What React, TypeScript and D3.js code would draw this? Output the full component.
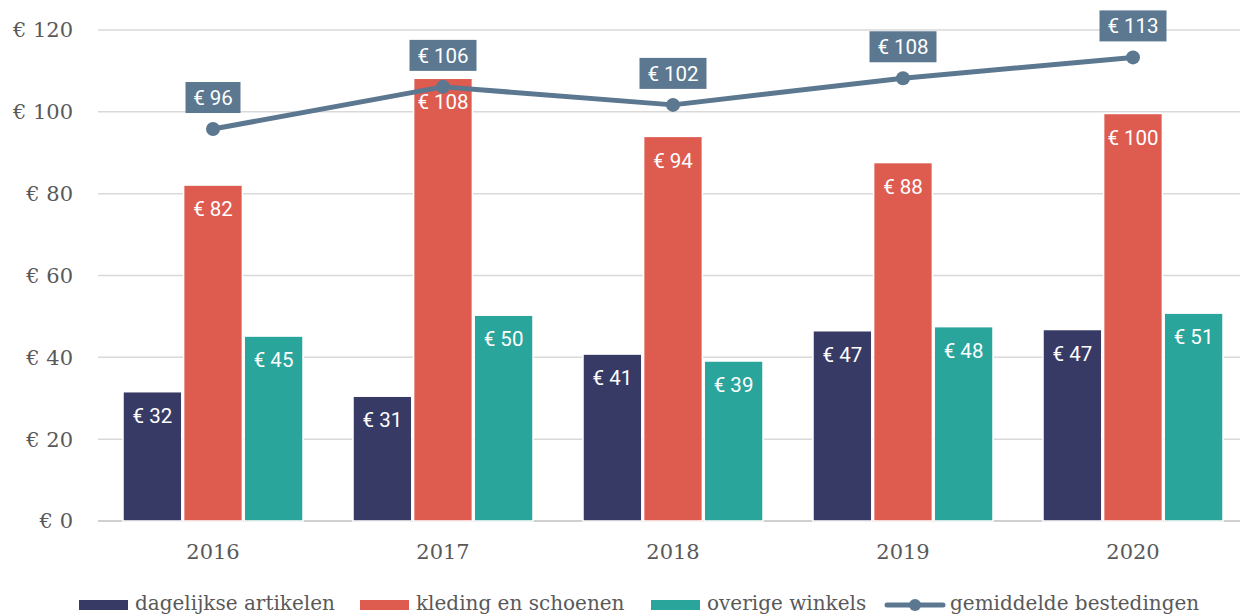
import React from "react";
import * as d3 from "d3";

const years = ["2016", "2017", "2018", "2019", "2020"];
const seriesNames = ["dagelijkse artikelen", "kleding en schoenen", "overige winkels"];
const dagelijkse = [31.6, 30.5, 40.8, 46.5, 46.8];
const kleding = [82.1, 108.2, 94, 87.6, 99.6];
const overige = [45.2, 50.3, 39.1, 47.5, 50.8];
const gemiddelde = [95.8, 106.1, 101.7, 108.2, 113.3];
const lineName = "gemiddelde bestedingen";
const yTicks = [0, 20, 40, 60, 80, 100, 120];

const colors = ["#383A66", "#DE5B50", "#29A59B"];
const lineColor = "#5B7890";
const W = 1240;
const H = 615;
const serif = "'DejaVu Serif', serif";
const sans = "Roboto, sans-serif";

export default function App() {
  const barSeries = [dagelijkse, kleding, overige];
  const x0 = d3.scaleBand<string>().domain(years).range([98, 1248]).paddingInner(0.2174).paddingOuter(0.1087);
  const x1 = d3.scaleBand<number>().domain([0, 1, 2]).range([0, x0.bandwidth()]).paddingInner(0.03);
  const y = d3.scaleLinear().domain([0, 120]).range([521, 30]);
  const fmt = (v: number) => "€ " + Math.round(v);
  const line = d3
    .line<number>()
    .x((_, i) => (x0(years[i]) as number) + x0.bandwidth() / 2)
    .y((d) => y(d));

  const legendItems = [
    { x: 79, w: 49, type: "bar", color: colors[0], label: seriesNames[0] },
    { x: 360, w: 49, type: "bar", color: colors[1], label: seriesNames[1] },
    { x: 651, w: 49, type: "bar", color: colors[2], label: seriesNames[2] },
    { x: 887, w: 56, type: "line", color: lineColor, label: lineName },
  ];

  return (
    <svg width={W} height={H} style={{ position: "absolute", left: 0, top: 0, background: "#fff" }}>
      {yTicks.map((t) => (
        <g key={t}>
          <line x1={98} x2={W} y1={y(t)} y2={y(t)} stroke={t === 0 ? "#d0d0d0" : "#d9d9d9"} strokeWidth={t === 0 ? 2 : 1.5} />
          <text x={73} y={y(t)} dy="0.35em" textAnchor="end" fontFamily={serif} fontSize={21} fill="#595959">
            {"€ " + t}
          </text>
        </g>
      ))}
      {years.map((yr) => (
        <text key={yr} x={(x0(yr) as number) + x0.bandwidth() / 2} y={552} dy="0.35em" textAnchor="middle" fontFamily={serif} fontSize={21} fill="#595959">
          {yr}
        </text>
      ))}
      {barSeries.map((s, si) =>
        s.map((v, i) => {
          const bx = (x0(years[i]) as number) + (x1(si) as number);
          const by = y(v);
          return (
            <g key={si + "-" + i}>
              <rect x={bx} y={by} width={x1.bandwidth()} height={y(0) - by} fill={colors[si]} stroke="#fff" strokeWidth={1.5} />
              <text x={bx + x1.bandwidth() / 2} y={by + 24} dy="0.35em" textAnchor="middle" fontFamily={sans} fontSize={20.5} fill="#fff">
                {fmt(v)}
              </text>
            </g>
          );
        })
      )}
      <path d={line(gemiddelde) || ""} fill="none" stroke={lineColor} strokeWidth={5} strokeLinejoin="round" />
      {gemiddelde.map((v, i) => {
        const cx = (x0(years[i]) as number) + x0.bandwidth() / 2;
        const cy = y(v);
        const label = fmt(v);
        const bw = label.length >= 5 ? 67 : 55;
        return (
          <g key={"p" + i}>
            <circle cx={cx} cy={cy} r={7} fill={lineColor} />
            <rect x={cx - bw / 2} y={cy - 47} width={bw} height={31} fill={lineColor} />
            <text x={cx} y={cy - 31.5} dy="0.35em" textAnchor="middle" fontFamily={sans} fontSize={20.5} fill="#fff">
              {label}
            </text>
          </g>
        );
      })}
      {legendItems.map((it) => (
        <g key={it.label}>
          {it.type === "bar" ? (
            <rect x={it.x} y={600} width={it.w} height={10} fill={it.color} />
          ) : (
            <g>
              <line x1={it.x} x2={it.x + it.w} y1={605} y2={605} stroke={it.color} strokeWidth={5} strokeLinecap="round" />
              <circle cx={it.x + it.w / 2} cy={605} r={6} fill={it.color} />
            </g>
          )}
          <text x={it.x + it.w + 7} y={610} fontFamily={serif} fontSize={20} fill="#595959">
            {it.label}
          </text>
        </g>
      ))}
    </svg>
  );
}
